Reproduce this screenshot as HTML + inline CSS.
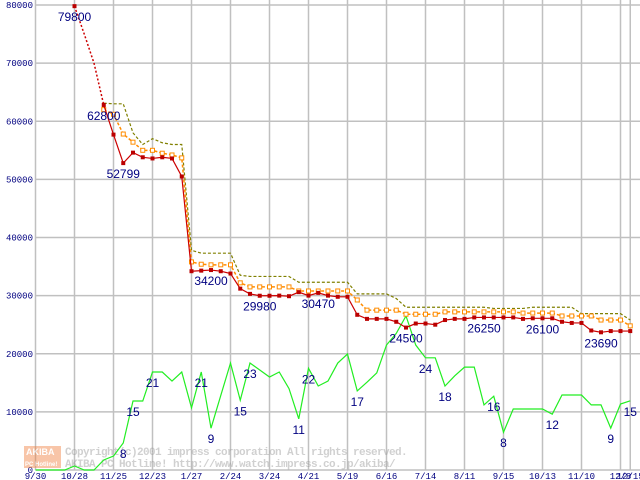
<!DOCTYPE html>
<html><head><meta charset="utf-8"><style>
body{margin:0;background:#fff;}
svg{display:block;font-family:"Liberation Sans",sans-serif;}
</style></head><body>
<svg id="chart" width="640" height="480" viewBox="0 0 640 480" xmlns="http://www.w3.org/2000/svg"></svg>
<script>
const xTickLabels=['9/30','10/28','11/25','12/23','1/27','2/24','3/24','4/21','5/19','6/16','7/14','8/11','9/15','10/13','11/10','12/8','12/15'];
const xTickIndex=[0,4,8,12,16,20,24,28,32,36,40,44,48,52,56,60,61];
const yTicks=[0,10000,20000,30000,40000,50000,60000,70000,80000];
const minPrice=[null,null,null,null,79800,75000,70000,62800,57700,52799,54600,53800,53600,53800,53600,50500,34200,34300,34400,34200,33800,31200,30300,29980,29980,30000,29900,30600,30000,30470,30000,29800,29800,26700,26000,26000,26000,25500,24500,25200,25200,25000,25800,26000,26000,26250,26250,26250,26250,26250,26000,26100,26100,26100,25500,25300,25300,24000,23690,23900,23900,23900];
const avgPrice=[null,null,null,null,null,null,null,62000,61200,57800,56400,55000,55000,54500,54200,53700,35800,35400,35300,35300,35300,32200,31500,31500,31500,31500,31500,30800,30800,30800,30800,30800,30800,29250,27500,27500,27500,27500,26800,26800,26800,26800,27200,27200,27200,27200,27200,27200,27200,27200,27000,27000,27000,27000,26500,26500,26500,26500,25800,25800,25800,24800];
const maxPrice=[null,null,null,null,null,null,null,63100,63000,63000,58000,56000,57000,56300,56000,56000,37800,37300,37300,37300,37300,33500,33300,33300,33300,33300,33300,32300,32300,32300,32300,32300,32300,30300,30300,30300,30300,29500,28000,28000,28000,28000,28000,28000,28000,28000,28000,27800,27800,27800,27800,28000,28000,28000,28000,28000,26900,26900,26900,26900,26900,25800];
const shopCount=[0,0,0,0,690,0,0,1720,2400,4650,11870,11870,16860,16860,15300,16860,10700,16860,7200,12800,18400,12000,18400,17200,16000,16860,14000,8800,17500,14450,15300,18400,19950,13600,15100,16700,21500,23500,26500,21500,19300,19300,14450,16200,17700,17700,11200,12700,6500,10500,10500,10500,10500,9600,12900,12900,12900,11200,11200,7200,11350,11900];
const priceLabelIdx=[4,7,9,18,23,29,38,46,52,58];
const priceLabelText=['79800','62800','52799','34200','29980','30470','24500','26250','26100','23690'];
const countLabelIdx=[9,10,12,17,18,21,22,27,28,33,40,42,47,48,53,59,61];
const countLabelText=['8','15','21','21','9','15','23','11','22','17','24','18','16','8','12','9','15'];

const svg=document.getElementById('chart');
const NS='http://www.w3.org/2000/svg';
const X0=35.5,DX=9.75,Y0=470,YMAX=80000,YTOP=5;
function xs(i){return X0+i*DX;}
function ys(v){return Y0-(v/YMAX)*(Y0-YTOP);}
function mk(tag,attrs,parent){const e=document.createElementNS(NS,tag);for(const k in attrs)e.setAttribute(k,attrs[k]);(parent||svg).appendChild(e);return e;}

const grid=mk('g',{});


yTicks.forEach(v=>{
  const l=mk('line',{x1:X0,x2:640,y1:ys(v),y2:ys(v),stroke:'#c0c0c0','stroke-width':1.5},grid);
  
  
  const t=mk('text',{x:33,y:ys(v)+3,'text-anchor':'end','font-size':9,fill:'#000080','font-family':'Liberation Mono, monospace'});
  t.textContent=String(v);
  
  
});
xTickIndex.forEach((i,k)=>{
  const l=mk('line',{x1:xs(i),x2:xs(i),y1:0,y2:Y0,stroke:'#c0c0c0','stroke-width':1.5},grid);
  
  
  const t=mk('text',{x:xs(i),y:479,'text-anchor':'middle','font-size':9,fill:'#000080','font-family':'Liberation Mono, monospace'});
  t.textContent=xTickLabels[k];
  
  
});

// watermark
const wm=mk('g',{opacity:0.45});


mk('rect',{x:24,y:446,width:37,height:22,fill:'#f08040'},wm);
const w1=mk('text',{x:26,y:455,'font-size':9,fill:'#fff','font-weight':'bold'},wm);w1.textContent='AKIBA';
const w2=mk('text',{x:25,y:466,'font-size':6,fill:'#fff','font-weight':'bold'},wm);w2.textContent='PC Hotline!';
const w3=mk('text',{x:65,y:455,'font-size':11,fill:'#999','font-family':'Liberation Mono, monospace','font-weight':'bold','letter-spacing':'-0.6'},wm);w3.textContent='Copyright(c)2001 impress corporation All rights reserved.';
const w4=mk('text',{x:65,y:467,'font-size':11,fill:'#999','font-family':'Liberation Mono, monospace','font-weight':'bold','letter-spacing':'-0.6'},wm);w4.textContent='AKIBA PC Hotline!  http://www.watch.impress.co.jp/akiba/';

function line(arr,color,dash,name,w){
  let d='';let pen=false;
  arr.forEach((v,i)=>{if(v==null){pen=false;return;}d+=(pen?'L':'M')+xs(i)+','+ys(v)+' ';pen=true;});
  const p=mk('path',{d:d,fill:'none',stroke:color,'stroke-width':w||1,'stroke-dasharray':dash||'none'});
  
  
}
line(shopCount,'#22ee22',null,'shop-count-line',1.2);
line(maxPrice,'#808000','3,2','max-price-line',1.2);
line(avgPrice,'#ff8c00','3,2','avg-price-line',1.5);
avgPrice.forEach((v,i)=>{if(v==null)return;
  const r=mk('rect',{x:xs(i)-2,y:ys(v)-2,width:4,height:4,fill:'#fff',stroke:'#ff8c00','stroke-width':1});
  
  
});
// red: dotted for first segment
const redDotted=minPrice.map((v,i)=>i<=7?v:null);
const redSolid=minPrice.map((v,i)=>i>=7?v:null);
line(redDotted,'#cc0000','2,2','min-price-line-early',1.5);
line(redSolid,'#cc0000',null,'min-price-line',1.2);
minPrice.forEach((v,i)=>{if(v==null||(i>4&&i<7))return;
  const r=mk('rect',{x:xs(i)-2,y:ys(v)-2,width:4,height:4,fill:'#bb0000'});
  
  
});
priceLabelIdx.forEach((i,k)=>{
  const t=mk('text',{x:xs(i),y:ys(minPrice[i])+15,'text-anchor':'middle','font-size':12,fill:'#000080'});
  t.textContent=priceLabelText[k];
  
  
});
countLabelIdx.forEach((i,k)=>{
  const t=mk('text',{x:xs(i),y:ys(shopCount[i])+15,'text-anchor':'middle','font-size':12,fill:'#000080'});
  t.textContent=countLabelText[k];
  
  
});
</script>
</body></html>
